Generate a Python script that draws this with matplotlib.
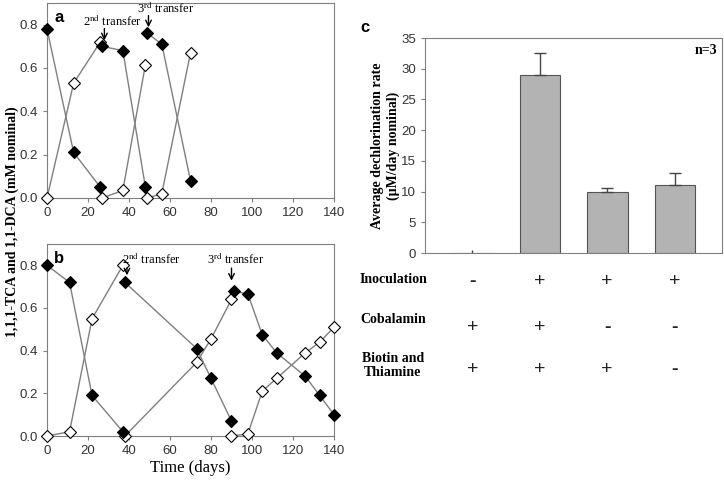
import numpy as np
import matplotlib
matplotlib.use("Agg")
import matplotlib.pyplot as plt

plt.rcParams['font.family'] = 'Liberation Sans'
plt.rcParams['mathtext.fontset'] = 'stix'

# panel a: three transfers, TCA (filled) and DCA (open)
a_tca_x = [[0, 13, 26], [27, 37, 48], [49, 56, 70]]
a_tca_y = [[0.78, 0.21, 0.05], [0.70, 0.68, 0.05], [0.76, 0.71, 0.08]]
a_dca_x = [[0, 13, 26], [27, 37, 48], [49, 56, 70]]
a_dca_y = [[0.0, 0.53, 0.72], [0.0, 0.035, 0.615], [0.0, 0.02, 0.67]]

# panel b
b_tca_x = [[0, 11, 22, 37], [38, 73, 80, 90], [91, 98, 105, 112, 126, 133, 140]]
b_tca_y = [[0.80, 0.72, 0.19, 0.02], [0.72, 0.41, 0.27, 0.07],
           [0.68, 0.665, 0.475, 0.39, 0.28, 0.19, 0.10]]
b_dca_x = [[0, 11, 22, 37], [38, 73, 80, 90], [90, 98, 105, 112, 126, 133, 140]]
b_dca_y = [[0.0, 0.02, 0.55, 0.80], [0.0, 0.345, 0.455, 0.64],
           [0.0, 0.01, 0.21, 0.27, 0.39, 0.44, 0.51]]

# panel c
c_pos = [0, 1, 2, 3]
c_rate = [0, 29, 10, 11]
c_err = [0.5, 3.5, 0.5, 2.0]
inoculation = ['-', '+', '+', '+']
cobalamin = ['+', '+', '-', '-']
biotin = ['+', '+', '+', '-']

W, H = 724, 490
fig = plt.figure(figsize=(W / 100, H / 100), dpi=100)

def px_axes(left, top, right, bottom):
    return fig.add_axes([left / W, 1 - bottom / H, (right - left) / W, (bottom - top) / H])

grey = '#7f7f7f'

def style(ax):
    for s in ax.spines.values():
        s.set_color(grey)
    ax.tick_params(colors='#333333', length=3, labelsize=9.5, color=grey)

def draw_series(ax, xs, ys, filled):
    for x, y in zip(xs, ys):
        ax.plot(x, y, '-', color=grey, lw=1, marker='D', ms=6.5,
                mfc='black' if filled else 'white', mec='black', mew=0.8, zorder=3,
                clip_on=False)

serif = 'Liberation Serif'

# panel a
axa = px_axes(47, 3, 334, 198)
draw_series(axa, a_dca_x, a_dca_y, False)
draw_series(axa, a_tca_x, a_tca_y, True)
axa.set_xlim(0, 140)
axa.set_ylim(0, 0.9)
axa.set_xticks(range(0, 141, 20))
axa.set_yticks(np.arange(0, 0.81, 0.2))
axa.yaxis.set_major_formatter(plt.FormatStrFormatter('%.1f'))
style(axa)
axa.text(0.025, 0.965, 'a', transform=axa.transAxes, fontsize=12, fontweight='bold', va='top')
axa.annotate('', xy=(28, 0.715), xytext=(28, 0.795),
             arrowprops=dict(arrowstyle='->', color='black', lw=1))
axa.text(32, 0.815, '2$^{\\rm nd}$ transfer', family=serif, fontsize=9, ha='center', va='center')
axa.annotate('', xy=(49.5, 0.775), xytext=(49.5, 0.855),
             arrowprops=dict(arrowstyle='->', color='black', lw=1))
axa.text(58, 0.875, '3$^{\\rm rd}$ transfer', family=serif, fontsize=9, ha='center', va='center')

# panel b
axb = px_axes(47, 244, 334, 436)
draw_series(axb, b_dca_x, b_dca_y, False)
draw_series(axb, b_tca_x, b_tca_y, True)
axb.set_xlim(0, 140)
axb.set_ylim(0, 0.9)
axb.set_xticks(range(0, 141, 20))
axb.set_yticks(np.arange(0, 0.81, 0.2))
axb.yaxis.set_major_formatter(plt.FormatStrFormatter('%.1f'))
style(axb)
axb.text(0.025, 0.965, 'b', transform=axb.transAxes, fontsize=12, fontweight='bold', va='top')
axb.annotate('', xy=(39, 0.74), xytext=(39, 0.80),
             arrowprops=dict(arrowstyle='->', color='black', lw=1))
axb.text(51, 0.83, '2$^{\\rm nd}$ transfer', family=serif, fontsize=9, ha='center', va='center')
axb.annotate('', xy=(90, 0.715), xytext=(90, 0.80),
             arrowprops=dict(arrowstyle='->', color='black', lw=1))
axb.text(92, 0.83, '3$^{\\rm rd}$ transfer', family=serif, fontsize=9, ha='center', va='center')
axb.set_xlabel('Time (days)', family=serif, fontsize=12, labelpad=2)

fig.text(12 / W, 1 - 222 / H, '1,1,1-TCA and 1,1-DCA (mM nominal)', rotation=90,
         family=serif, fontweight='bold', fontsize=10, ha='center', va='center')

# panel c
axc = px_axes(425, 38, 722, 253)
axc.bar(c_pos, c_rate, width=0.6, color='#b3b3b3', edgecolor='#555555', lw=0.8, zorder=2)
axc.errorbar(c_pos[1:], c_rate[1:], yerr=[np.zeros(3), c_err[1:]], fmt='none',
             ecolor='#444444', elinewidth=1, capsize=4, capthick=1, zorder=3)
axc.vlines(c_pos[0], 0, c_err[0], color='#444444', lw=1, zorder=3)
axc.set_xlim(-0.7, 3.7)
axc.set_ylim(0, 35)
axc.set_yticks(range(0, 36, 5))
axc.set_xticks([])
style(axc)
axc.set_ylabel('Average dechlorination rate\n(\u00b5M/day nominal)', family=serif,
               fontweight='bold', fontsize=10)
axc.yaxis.set_label_coords(-0.085, 0.5)
axc.text(0.985, 0.94, 'n=3', transform=axc.transAxes, family=serif, fontweight='bold',
         fontsize=10, ha='right', va='center')
fig.text(365 / W, 1 - 28 / H, 'c', fontsize=12, fontweight='bold', ha='center', va='center')

rows = [('Inoculation', inoculation, 279, 281),
        ('Cobalamin', cobalamin, 319, 327),
        ('Biotin and\nThiamine', biotin, 366, 370)]
for label, signs, ly, sy in rows:
    fig.text(393 / W, 1 - ly / H, label, family=serif, fontweight='bold', fontsize=10,
             ha='center', va='center', linespacing=1.1)
    for p, s in zip(c_pos, signs):
        xf = axc.transData.transform((p, 0))[0] / W
        fig.text(xf, 1 - sy / H, s, fontweight='bold' if s == '-' else 'normal',
                 fontsize=14, ha='center', va='center', color='#222222')

fig.savefig('out.png', dpi=100)
